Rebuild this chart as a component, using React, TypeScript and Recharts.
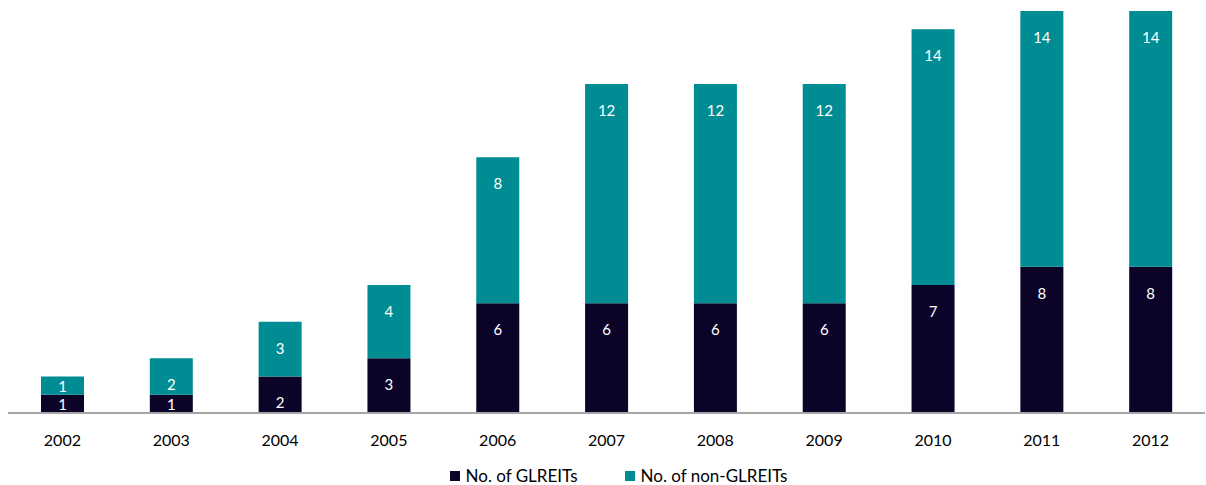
import { BarChart, Bar, XAxis, YAxis, Legend, LabelList } from 'recharts';

const years = ['2002', '2003', '2004', '2005', '2006', '2007', '2008', '2009', '2010', '2011', '2012'];
const glreits = [1, 1, 2, 3, 6, 6, 6, 6, 7, 8, 8];
const nonGlreits = [1, 2, 3, 4, 8, 12, 12, 12, 14, 14, 14];

const DARK = '#0b0428';
const TEAL = '#008c93';
const FONT = 'Lato, "Open Sans", sans-serif';

const data = years.map((year, i) => ({
  year,
  glreits: glreits[i],
  nonGlreits: nonGlreits[i],
}));

// Excel-style "inside end" label: near the top, but kept inside short segments
const renderLabel = (props: any) => {
  const { x, y, width, height, value } = props;
  const cy = y + Math.min(26, height - 9);
  return (
    <text
      x={x + width / 2}
      y={cy}
      fill="#fff"
      fontSize={15}
      fontFamily={FONT}
      textAnchor="middle"
      dominantBaseline="central"
    >
      {value}
    </text>
  );
};

const renderLegend = () => (
  <div
    style={{
      display: 'flex',
      justifyContent: 'center',
      fontFamily: FONT,
      fontSize: 17,
      color: '#000',
      paddingTop: 5,
      paddingLeft: 24,
    }}
  >
    <span style={{ display: 'flex', alignItems: 'center', marginRight: 47 }}>
      <span style={{ width: 10, height: 10, background: DARK, marginRight: 6 }} />
      No. of GLREITs
    </span>
    <span style={{ display: 'flex', alignItems: 'center' }}>
      <span style={{ width: 10, height: 10, background: TEAL, marginRight: 6 }} />
      No. of non-GLREITs
    </span>
  </div>
);

export default function App() {
  return (
    <div style={{ position: 'absolute', top: 0, left: 0, background: '#fff' }}>
      <BarChart
        width={1206}
        height={485}
        data={data}
        margin={{ top: 11, right: 1, left: 8, bottom: 0 }}
        barSize={43}
      >
        <XAxis
          dataKey="year"
          tickLine={false}
          axisLine={{ stroke: '#a6a6a6', strokeWidth: 2 }}
          tick={{ fill: '#000', fontSize: 16, fontFamily: FONT }}
          height={47}
          dy={14}
        />
        <YAxis hide domain={[0, 22]} />
        <Legend verticalAlign="bottom" height={25} content={renderLegend} />
        <Bar dataKey="glreits" stackId="a" fill={DARK} isAnimationActive={false}>
          <LabelList dataKey="glreits" content={renderLabel} />
        </Bar>
        <Bar dataKey="nonGlreits" stackId="a" fill={TEAL} isAnimationActive={false}>
          <LabelList dataKey="nonGlreits" content={renderLabel} />
        </Bar>
      </BarChart>
    </div>
  );
}
